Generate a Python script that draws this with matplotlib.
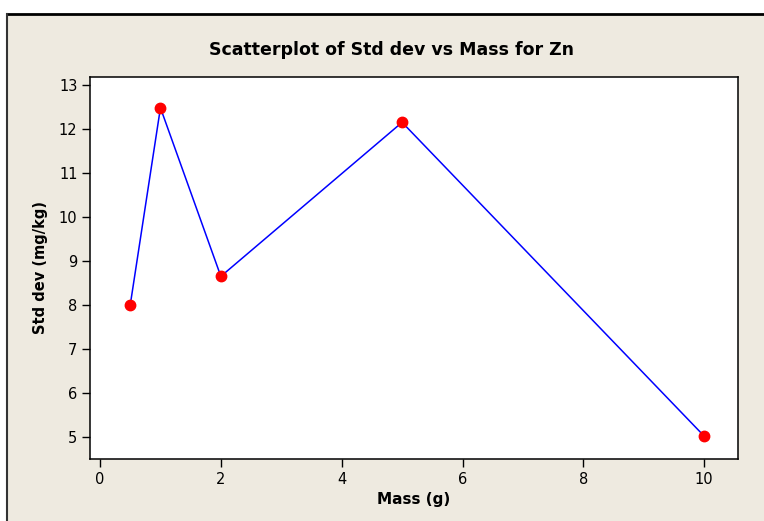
import matplotlib.pyplot as plt
from matplotlib.lines import Line2D
from matplotlib.patches import Rectangle

# Zn standard deviation at each sample mass
mass = [0.5, 1, 2, 5, 10]
std_dev = [8.0, 12.48, 8.65, 12.15, 5.02]
x_ticks = [0, 2, 4, 6, 8, 10]
y_ticks = [5, 6, 7, 8, 9, 10, 11, 12, 13]

beige = '#eeeae0'

fig = plt.figure(figsize=(7.64, 5.21), dpi=100, facecolor='white')

# beige panel with black top and left edges
fig.patches.append(Rectangle((8 / 764, 0), 1, (521 - 14) / 521, transform=fig.transFigure,
                             facecolor=beige, edgecolor='none', zorder=-2))
fig.add_artist(Line2D([7 / 764, 1], [(521 - 14) / 521] * 2, transform=fig.transFigure,
                      color='black', lw=2))
fig.add_artist(Line2D([7 / 764] * 2, [0, (521 - 14) / 521], transform=fig.transFigure,
                      color='#333333', lw=1.5))

ax = fig.add_axes([90 / 764, 62 / 521, 648 / 764, 382 / 521])
ax.set_facecolor('white')
ax.plot(mass, std_dev, color='blue', lw=1.1, zorder=2)
ax.plot(mass, std_dev, 'o', color='red', markersize=7.5, zorder=3)

ax.set_xlim(-0.166, 10.56)
ax.set_ylim(4.5, 13.18)
ax.set_xticks(x_ticks)
ax.set_yticks(y_ticks)
ax.tick_params(direction='out', length=6, width=1, labelsize=10.5, pad=3)
for s in ax.spines.values():
    s.set_linewidth(1.1)

ax.set_xlabel('Mass (g)', fontsize=11, fontweight='bold', labelpad=4)
ax.set_ylabel('Std dev (mg/kg)', fontsize=10.5, fontweight='bold', labelpad=8)
fig.text(391 / 764, (521 - 50) / 521, 'Scatterplot of Std dev vs Mass for Zn',
         ha='center', va='center', fontsize=12.5, fontweight='bold')

plt.savefig('out.png', dpi=100, facecolor=fig.get_facecolor())
